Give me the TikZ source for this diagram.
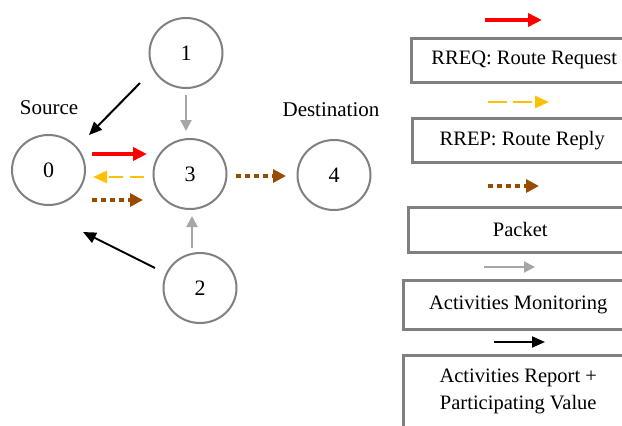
\documentclass[tikz,border=0pt]{standalone}
\usepackage{fontspec}
\setmainfont{Liberation Serif}
\usetikzlibrary{arrows.meta,shapes.geometric}
\definecolor{circgray}{RGB}{128,128,128}
\definecolor{boxgray}{RGB}{128,128,128}
\definecolor{mongray}{RGB}{166,166,166}
\definecolor{rrepyellow}{RGB}{255,192,0}
\definecolor{pktbrown}{RGB}{153,76,0}
\begin{document}
\begin{tikzpicture}[x=1pt,y=-1pt,
  netnode/.style={ellipse,draw=circgray,line width=2pt,minimum width=73pt,minimum height=70pt,inner sep=0pt,font=\fontsize{22}{26}\selectfont},
  lbl/.style={font=\fontsize{21}{25}\selectfont,inner sep=0pt},
  legbox/.style={rectangle,draw=boxgray,line width=2.5pt,anchor=north west,inner sep=0pt,font=\fontsize{20.5}{27}\selectfont,align=center},
  rreq/.style={draw=red,line width=4.5pt,-{Triangle[length=14pt,width=13pt]}},
  rrep/.style={draw=rrepyellow,line width=2.5pt,dash pattern=on 14pt off 7pt,-{Triangle[length=14pt,width=12pt]}},
  pkt/.style={draw=pktbrown,line width=4.5pt,dash pattern=on 4.5pt off 4.5pt,-{Triangle[length=13pt,width=13pt]}},
  mon/.style={draw=mongray,line width=2pt,-{Triangle[length=11pt,width=11pt]}},
  rep/.style={draw=black,line width=2pt,-{Triangle[length=13pt,width=11pt]}}
]
\useasboundingbox (0,0) rectangle (622,426);
\clip (0,0) rectangle (622,426);

% network nodes
\node[netnode] (n1) at (186,53) {1};
\node[netnode] (n0) at (48.5,170) {0};
\node[netnode] (n3) at (190,174) {3};
\node[netnode] (n4) at (334,175) {4};
\node[netnode] (n2) at (200,288) {2};

\node[lbl] (src) at (49,108) {Source};
\node[lbl] (dst) at (331,110) {Destination};

% connector end points
\coordinate (a1s) at (140,83);  \coordinate (a1e) at (89,135);
\coordinate (a2s) at (155,268); \coordinate (a2e) at (83,232);
\coordinate (g1s) at (186,95);  \coordinate (g1e) at (186,131);
\coordinate (g2s) at (192,248); \coordinate (g2e) at (192,216);
\coordinate (r1s) at (92,154);  \coordinate (r1e) at (147,154);
\coordinate (y1s) at (144,177); \coordinate (y1e) at (93,177);
\coordinate (b1s) at (92,200);  \coordinate (b1e) at (143,200);
\coordinate (b2s) at (236,176); \coordinate (b2e) at (286,176);

\draw[rep] (a1s) -- (a1e);
\draw[rep] (a2s) -- (a2e);
\draw[mon] (g1s) -- (g1e);
\draw[mon] (g2s) -- (g2e);
\draw[rreq] (r1s) -- (r1e);
\draw[rrep] (y1s) -- (y1e);
\draw[pkt] (b1s) -- (b1e);
\draw[pkt] (b2s) -- (b2e);

% legend
\coordinate (l1s) at (485,20);  \coordinate (l1e) at (542,20);
\coordinate (l2s) at (488,102); \coordinate (l2e) at (549,102);
\coordinate (l3s) at (488,186); \coordinate (l3e) at (539,186);
\coordinate (l4s) at (484,267); \coordinate (l4e) at (535,267);
\coordinate (l5s) at (494,342); \coordinate (l5e) at (545,342);

\draw[rreq] (l1s) -- (l1e);
\draw[draw=rrepyellow,line width=2.5pt,dash pattern=on 19pt off 6pt,-{Triangle[length=14pt,width=12pt]}] (l2s) -- (l2e);
\draw[pkt] (l3s) -- (l3e);
\draw[mon] (l4s) -- (l4e);
\draw[rep] (l5s) -- (l5e);

\node[legbox,minimum width=226pt,minimum height=44pt] (k1) at (410,37) {RREQ: Route Request};
\node[legbox,minimum width=220pt,minimum height=44pt] (k2) at (411,117) {RREP: Route Reply};
\node[legbox,minimum width=224pt,minimum height=45pt] (k3) at (407,206) {Packet};
\node[legbox,minimum width=230pt,minimum height=49pt] (k4) at (402,279) {Activities Monitoring};
\node[legbox,minimum width=230pt,minimum height=72pt] (k5) at (402,354) {Activities Report +\\Participating Value};
\end{tikzpicture}
\end{document}
